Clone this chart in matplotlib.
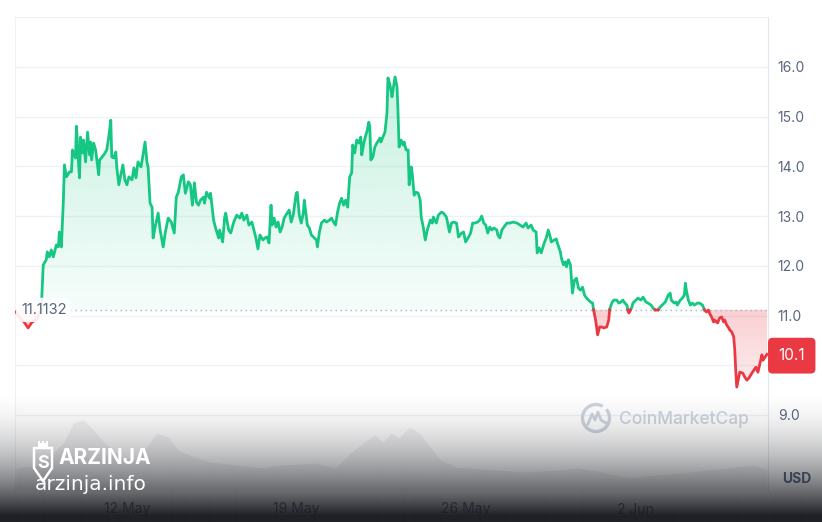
import numpy as np
import pandas as pd
import matplotlib
matplotlib.use('Agg')
import matplotlib.pyplot as plt
from matplotlib.path import Path
from matplotlib.patches import Polygon, Arc
from matplotlib.colors import to_rgb

# price series, hours after the first sample
start = pd.Timestamp('2024-05-07 10:00')
base_price = 11.1132
last_label = '10.1'

hours = [0, 4, 8, 12, 16, 20, 24, 25, 27, 30,
         31, 33, 35, 37, 40, 42, 43, 45, 47, 48,
         50, 53, 55, 56, 59, 60, 62, 63, 64, 66,
         67, 69, 71, 73, 74, 75, 77, 79, 82, 83,
         87, 90, 92, 94, 95, 97, 99, 100, 102, 105,
         106, 108, 110, 112, 115, 117, 119, 121, 124, 126,
         128, 130, 131, 133, 135, 136, 138, 141, 143, 146,
         148, 151, 154, 157, 159, 161, 164, 166, 168, 171,
         173, 175, 177, 179, 181, 183, 186, 187, 189, 192,
         193, 196, 198, 201, 202, 205, 207, 208, 211, 213,
         216, 219, 222, 224, 226, 229, 231, 234, 236, 238,
         240, 242, 245, 247, 249, 251, 253, 254, 256, 258,
         260, 262, 264, 266, 269, 271, 273, 275, 278, 279,
         281, 283, 285, 286, 289, 291, 293, 296, 298, 299,
         301, 303, 306, 308, 311, 313, 315, 317, 319, 321,
         323, 325, 327, 329, 331, 333, 334, 336, 338, 340,
         342, 343, 345, 347, 348, 350, 351, 352, 354, 356,
         358, 361, 362, 364, 366, 368, 369, 371, 373, 374,
         376, 378, 379, 380, 382, 384, 385, 387, 389, 390,
         392, 393, 395, 397, 399, 401, 402, 404, 406, 408,
         411, 413, 414, 417, 419, 422, 424, 427, 430, 432,
         434, 437, 439, 442, 444, 446, 449, 451, 453, 455,
         458, 460, 462, 464, 466, 468, 470, 472, 474, 477,
         478, 480, 482, 484, 487, 490, 493, 497, 500, 503,
         506, 508, 511, 513, 516, 517, 519, 521, 524, 526,
         528, 530, 531, 534, 536, 537, 540, 541, 543, 545,
         546, 548, 550, 551, 552, 554, 556, 558, 560, 562,
         564, 566, 568, 570, 572, 573, 575, 577, 579, 581,
         583, 586, 588, 589, 591, 593, 596, 598, 600, 602,
         604, 606, 607, 608, 611, 612, 615, 617, 620, 622,
         625, 627, 630, 632, 634, 637, 639, 641, 644, 645,
         647, 649, 650, 653, 655, 656, 659, 661, 663, 664,
         665, 667, 669, 671, 673, 676, 678, 681, 683, 685,
         687, 688, 690, 692, 693, 696, 698, 700, 702, 703,
         705, 707, 708, 710, 712, 713, 714, 715, 717, 718,
         721, 723, 725, 727, 730, 732, 734, 736, 738, 740,
         741, 743, 745]

price = [11.07, 10.95, 10.87, 10.75, 10.87, 10.91, 11.07, 11.10, 12.02, 12.12,
         12.28, 12.18, 12.32, 12.18, 12.42, 12.38, 12.68, 12.38, 13.32, 14.03,
         13.79, 13.89, 13.89, 14.33, 14.17, 14.81, 14.07, 13.77, 14.59, 14.27,
         14.53, 14.09, 14.69, 14.23, 14.49, 14.13, 14.47, 14.33, 13.83, 14.13,
         14.23, 14.33, 14.59, 14.93, 14.19, 14.17, 14.29, 13.97, 13.63, 13.93,
         14.03, 13.73, 13.63, 13.79, 13.73, 13.97, 13.77, 14.09, 13.99, 14.23,
         14.49, 14.07, 13.99, 13.26, 13.18, 12.56, 12.78, 13.06, 12.72, 12.38,
         12.66, 12.96, 12.88, 12.66, 13.38, 13.48, 13.79, 13.83, 13.46, 13.69,
         13.63, 13.22, 13.67, 13.28, 13.22, 13.32, 13.38, 13.26, 13.48, 13.36,
         13.46, 12.92, 12.76, 12.56, 12.72, 12.48, 12.98, 13.06, 12.72, 12.66,
         12.88, 13.02, 12.96, 13.06, 12.92, 13.02, 12.82, 12.88, 12.72, 12.56,
         12.34, 12.62, 12.52, 12.56, 12.58, 12.46, 13.22, 12.82, 12.96, 12.78,
         12.88, 12.68, 12.78, 12.96, 13.06, 13.12, 12.88, 13.02, 13.46, 13.48,
         13.02, 12.86, 13.06, 13.32, 12.82, 12.76, 12.62, 12.56, 12.52, 12.38,
         12.68, 12.86, 12.92, 12.88, 12.92, 12.96, 12.88, 12.82, 13.08, 13.26,
         13.36, 13.22, 13.32, 13.18, 13.79, 13.87, 14.43, 14.27, 14.53, 14.47,
         14.59, 14.23, 14.47, 14.63, 14.69, 14.89, 14.79, 14.13, 14.19, 14.39,
         14.47, 14.57, 14.49, 14.59, 14.69, 15.07, 15.78, 15.64, 15.40, 15.54,
         15.80, 15.60, 15.07, 14.39, 14.53, 14.43, 14.49, 14.33, 14.33, 13.63,
         13.99, 13.87, 13.42, 13.48, 13.46, 13.32, 12.98, 12.78, 12.52, 12.72,
         12.92, 12.86, 12.98, 12.86, 13.02, 13.08, 13.06, 12.98, 12.68, 12.86,
         12.88, 12.86, 12.58, 12.66, 12.68, 12.48, 12.58, 12.66, 12.86, 12.86,
         12.88, 12.92, 13.00, 12.86, 12.82, 12.66, 12.78, 12.72, 12.76, 12.72,
         12.62, 12.56, 12.72, 12.78, 12.86, 12.86, 12.88, 12.86, 12.82, 12.78,
         12.86, 12.76, 12.82, 12.72, 12.68, 12.26, 12.36, 12.26, 12.46, 12.56,
         12.72, 12.58, 12.48, 12.52, 12.54, 12.46, 12.28, 12.16, 12.02, 12.08,
         11.98, 12.12, 12.02, 11.75, 11.45, 11.71, 11.75, 11.55, 11.51, 11.57,
         11.41, 11.35, 11.31, 11.27, 11.25, 11.11, 10.91, 10.61, 10.77, 10.77,
         10.75, 10.77, 10.91, 11.13, 11.25, 11.31, 11.31, 11.25, 11.27, 11.31,
         11.25, 11.21, 11.11, 11.05, 11.17, 11.25, 11.31, 11.35, 11.31, 11.37,
         11.27, 11.25, 11.21, 11.15, 11.11, 11.11, 11.17, 11.21, 11.27, 11.31,
         11.41, 11.45, 11.31, 11.25, 11.27, 11.21, 11.31, 11.35, 11.41, 11.65,
         11.51, 11.31, 11.21, 11.25, 11.21, 11.25, 11.25, 11.21, 11.11, 11.07,
         11.11, 11.05, 10.97, 10.87, 10.91, 10.85, 10.95, 10.97, 10.87, 10.91,
         10.81, 10.75, 10.71, 10.67, 10.57, 10.31, 9.90, 9.56, 9.76, 9.86,
         9.84, 9.76, 9.70, 9.74, 9.84, 9.90, 9.96, 9.86, 10.04, 10.21,
         10.10, 10.16, 10.22]

# volume (relative units)
vol_hours = [0, 24, 47, 57, 67, 77, 88, 104, 119, 132, 140, 151, 161, 177, 192,
             218, 244, 265, 297, 317, 332, 348, 356, 364, 372, 380, 390, 400,
             411, 421, 436, 478, 504, 536, 557, 582, 608, 635, 661, 686, 712,
             733, 745]
volume = [22, 25, 47, 67, 70, 60, 47, 33, 30, 47, 57, 53, 40, 33, 28,
          25, 22, 25, 27, 22, 37, 50, 55, 48, 57, 52, 63, 57,
          43, 30, 23, 20, 18, 20, 22, 18, 12, 15, 17, 20, 23,
          25, 20]

tick_dates = ['2024-05-12', '2024-05-19', '2024-05-26', '2024-06-02']
tick_labels = ['12 May', '19 May', '26 May', '2 Jun']
y_ticks = [9, 10, 11, 12, 13, 14, 15, 16]

GREEN = '#16c784'
RED = '#ea3943'
GRID = '#eff2f5'
TXT = '#58667e'

plt.rcParams['font.family'] = ['Inter', 'DejaVu Sans']

fig = plt.figure(figsize=(8.22, 5.22), dpi=100)
ax = fig.add_axes([15 / 822, 32 / 522, 753 / 822, 473 / 522])

# volume at the bottom (twin axes first, it resets tick side)
ax2 = ax.twinx()
ax2.fill_between(vol_hours, volume, 0, color='#8d929c', alpha=0.12, lw=0)
ax2.set_ylim(0, 473)
ax2.set_xlim(-1, 746)
ax2.axis('off')

# add crossing points with the base line so the colours split cleanly
t = np.array(hours, float)
p = np.array(price, float)
tt, pp = [t[0]], [p[0]]
for i in range(1, len(t)):
    a, b = p[i - 1] - base_price, p[i] - base_price
    if a * b < 0:
        tt.append(t[i - 1] + (t[i] - t[i - 1]) * a / (a - b))
        pp.append(base_price)
    tt.append(t[i])
    pp.append(p[i])
tt = np.array(tt)
pp = np.array(pp)

# gradient fills clipped to the area between line and base
up = ax.fill_between(tt, pp, base_price, where=pp >= base_price, interpolate=True,
                     facecolor='none', edgecolor='none')
dn = ax.fill_between(tt, pp, base_price, where=pp <= base_price, interpolate=True,
                     facecolor='none', edgecolor='none')

g = np.zeros((200, 1, 4))
g[..., :3] = to_rgb(GREEN)
g[:, 0, 3] = np.linspace(0.04, 0.25, 200)
im = ax.imshow(g, extent=[tt[0], tt[-1], base_price, 16.0], origin='lower',
               aspect='auto', zorder=1, interpolation='bilinear')
im.set_clip_path(Path.make_compound_path(*up.get_paths()), ax.transData)

r = np.zeros((200, 1, 4))
r[..., :3] = to_rgb(RED)
r[:, 0, 3] = np.linspace(0.08, 0.24, 200)
im2 = ax.imshow(r, extent=[tt[0], tt[-1], 9.4, base_price], origin='lower',
                aspect='auto', zorder=1, interpolation='bilinear')
im2.set_clip_path(Path.make_compound_path(*dn.get_paths()), ax.transData)

ax.plot(tt, np.where(pp >= base_price, pp, np.nan), color=GREEN, lw=2,
        zorder=4, solid_joinstyle='round')
ax.plot(tt, np.where(pp <= base_price, pp, np.nan), color=RED, lw=2,
        zorder=4, solid_joinstyle='round')

ax.axhline(base_price, color='#a9b2c3', lw=1, ls=(0, (1, 2.6)), zorder=3)

ax.set_xlim(-1, 746)
ax.set_ylim(7.489, 17.006)

ax.yaxis.tick_right()
ax.yaxis.set_label_position('right')
ax.set_yticks(y_ticks)
ax.set_yticklabels([f'{v:.1f}' for v in y_ticks])
ax.grid(axis='y', color=GRID, lw=1, zorder=0)
ax.set_axisbelow(True)
xt = (pd.to_datetime(tick_dates) - start) / pd.Timedelta(hours=1)
ax.set_xticks(list(xt))
ax.set_xticklabels(tick_labels)
ax.tick_params(axis='y', length=0, pad=7, labelsize=10, labelcolor=TXT)
ax.tick_params(axis='x', length=0, pad=9, labelsize=10, labelcolor=TXT)
for s in ['top', 'left']:
    ax.spines[s].set_color(GRID)
ax.spines['right'].set_color('#e3e6ec')
ax.spines['bottom'].set_visible(False)

ax.text(0.008, base_price, '11.1132', transform=ax.get_yaxis_transform(),
        ha='left', va='center', fontsize=10.5, color=TXT, zorder=6,
        bbox=dict(boxstyle='round,pad=0.35,rounding_size=0.5', fc='white',
                  ec='none', alpha=0.9))

ax.annotate(last_label, xy=(1, price[-1]), xycoords=('axes fraction', 'data'),
            xytext=(7.5, -1), textcoords='offset points', ha='left', va='center',
            fontsize=11, color='white', zorder=6, annotation_clip=False,
            bbox=dict(boxstyle='round,pad=0.68,rounding_size=0.3', fc=RED, ec='none'))

# overlay: watermark, dark fade at the bottom
ov = fig.add_axes([0, 0, 1, 1], zorder=5)
ov.axis('off')

ov.add_patch(Arc((596, 418), 27, 27, theta1=-40, theta2=300, color='#cdd3de', lw=2.4, zorder=1))
ov.plot([588, 592, 595, 598, 601, 604, 608], [424, 414, 420, 412, 420, 422, 424],
        color='#cdd3de', lw=2, zorder=1)
ov.text(619, 419, 'CoinMarketCap', fontsize=12.5, color='#cdd3de', fontweight='medium',
        ha='left', va='center', zorder=1)
ov.text(797, 479, 'USD', fontsize=10, color=TXT, fontweight='bold',
        ha='center', va='center', zorder=1)

yy = np.arange(522)
tf = np.clip((yy - 385) / 130.0, 0, 1)
fade = np.zeros((522, 1, 4))
fade[..., :3] = to_rgb('#17191f')
fade[:, 0, 3] = tf ** 2 * 0.97
ov.imshow(fade, extent=[0, 822, 522, 0], aspect='auto', zorder=2, interpolation='bilinear')

ov.add_patch(Polygon([(34, 448), (52, 448), (52, 468), (43, 481), (34, 468)],
                     closed=True, fill=False, ec='white', lw=1.8, zorder=3))
ov.add_patch(Polygon([(38, 448), (38, 441), (40, 441), (40, 443), (42, 443), (42, 441),
                      (44, 441), (44, 443), (46, 443), (46, 441), (48, 441), (48, 448)],
                     closed=True, fc='white', ec='none', zorder=3))
ov.text(43, 463, 'S', fontsize=13, color='white', fontweight='bold',
        ha='center', va='center', zorder=3)
ov.text(58, 458, 'ARZINJA', fontsize=15, color='white', fontweight='bold',
        ha='left', va='center', zorder=3)
ov.text(35, 484, 'arzinja.info', fontsize=14.5, color='white', family='DejaVu Sans',
        ha='left', va='center', zorder=3)
ov.set_xlim(0, 822)
ov.set_ylim(522, 0)

fig.savefig('out.png', dpi=100)
